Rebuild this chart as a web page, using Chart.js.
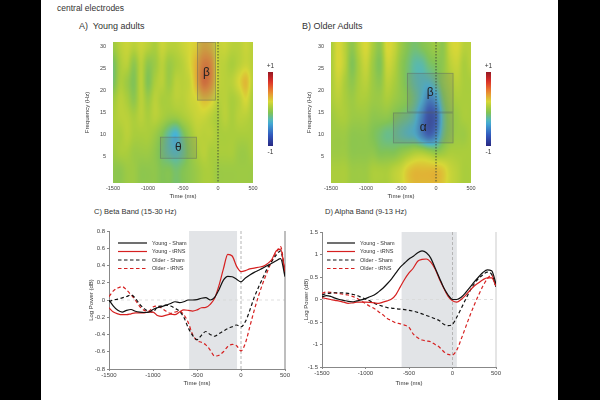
<!DOCTYPE html>
<html><head><meta charset="utf-8">
<script src="https://cdn.jsdelivr.net/npm/chart.js@4.4.1/dist/chart.umd.min.js"></script>
<style>
html,body{margin:0;padding:0;background:#fff;}
#page{position:relative;width:600px;height:400px;overflow:hidden;background:#fff;font-family:"Liberation Sans",Arial,sans-serif;color:#333;}
.bar{position:absolute;top:0;height:400px;background:#000;}
.txt{position:absolute;white-space:nowrap;line-height:1;}
canvas{position:absolute;}
</style></head><body>
<div id="page">
<div class="bar" style="left:0;width:41px"></div>
<div class="bar" style="left:558px;width:42px"></div>
<div class="txt" style="left:57px;top:4px;font-size:8.5px">central electrodes</div>
<div class="txt" style="left:79px;top:22px;font-size:9px">A)&nbsp; Young adults</div>
<div class="txt" style="left:302px;top:22px;font-size:9px">B) Older Adults</div>
<div class="txt" style="left:94px;top:208px;font-size:7.5px">C) Beta Band (15-30 Hz)</div>
<div class="txt" style="left:325px;top:208px;font-size:7.5px">D) Alpha Band (9-13 Hz)</div>
<canvas id="hA" width="215" height="175" style="left:80px;top:30px"></canvas>
<canvas id="hB" width="215" height="175" style="left:295px;top:30px"></canvas>
<canvas id="cC" width="215" height="170" style="left:80px;top:220px"></canvas>
<canvas id="cD" width="215" height="170" style="left:295px;top:220px"></canvas>
</div>
<script>
// ---------- heatmap data (time-frequency power, rows = frequencies) ----------
const heatTimes = [-1500,-1400,-1300,-1200,-1100,-1000,-900,-800,-700,-600,-500,-400,-300,-200,-100,0,100,200,300,400,500];
const heatFreqs = [30,26,22,18,14,10,6,2];
const heatTimeTicks = [-1500,-1000,-500,0,500];
const heatFreqTicks = [5,10,15,20,25,30];
const youngPower = [
 [0.0,0.1,0.15,0.1,0.15,0.1,0.05,0.15,0.1,0.1,0.15,0.2,0.25,0.35,0.3,0.15,0.15,0.1,0.1,0.15,0.1],
 [-0.15,0.05,0.1,-0.05,0.1,-0.05,0.0,0.1,0.0,0.05,0.1,0.2,0.35,0.5,0.45,0.15,0.1,0.05,0.1,0.15,0.1],
 [-0.15,0.05,0.0,-0.1,0.1,-0.1,0.05,0.1,0.0,0.1,0.1,0.15,0.35,0.55,0.45,0.15,0.1,0.1,0.2,0.3,0.1],
 [0.0,0.1,0.05,-0.05,0.1,0.0,0.1,0.05,0.05,0.1,0.1,0.15,0.2,0.3,0.25,0.1,0.1,0.05,0.1,0.2,0.05],
 [0.05,0.1,0.1,0.05,0.1,0.05,0.1,0.05,0.0,0.0,0.05,0.1,0.15,0.15,0.1,0.05,0.1,0.05,0.1,0.1,0.05],
 [0.05,0.05,0.1,0.05,0.05,0.05,0.0,-0.1,-0.25,-0.35,-0.15,0.0,0.1,0.1,0.1,0.05,0.05,0.05,0.05,0.05,0.05],
 [0.0,0.05,0.05,0.0,0.0,0.0,-0.05,-0.15,-0.25,-0.3,-0.2,-0.05,0.05,0.1,0.05,0.05,0.05,0.05,0.0,0.0,0.05],
 [-0.05,-0.05,0.0,0.0,-0.05,-0.05,-0.05,-0.1,-0.1,-0.15,-0.1,-0.05,0.0,0.05,0.05,0.0,0.0,0.0,0.0,0.0,0.0]
];
const olderPower = [
 [0.05,0.2,0.1,-0.05,0.1,0.2,0.05,-0.05,0.2,0.15,0.0,-0.1,-0.15,-0.1,-0.05,0.0,-0.05,0.15,0.2,0.1,0.1],
 [0.05,0.2,0.1,-0.1,0.05,0.15,0.0,-0.1,0.15,0.1,-0.05,-0.15,-0.25,-0.25,-0.15,-0.1,-0.05,0.1,0.15,0.05,0.1],
 [0.05,0.15,0.05,-0.05,0.05,0.1,0.0,-0.05,0.1,0.05,-0.05,-0.15,-0.25,-0.3,-0.3,-0.2,-0.05,0.05,0.1,0.05,0.05],
 [0.05,0.1,0.05,0.0,0.05,0.05,0.0,0.0,0.05,0.0,-0.05,-0.1,-0.2,-0.35,-0.55,-0.45,-0.15,0.0,0.05,0.05,0.05],
 [0.0,0.05,0.05,0.0,0.0,0.0,-0.05,-0.05,-0.05,-0.1,-0.15,-0.2,-0.3,-0.55,-0.8,-0.7,-0.25,-0.05,0.0,0.05,0.05],
 [0.0,0.0,0.0,-0.05,-0.05,-0.05,-0.1,-0.15,-0.2,-0.2,-0.25,-0.3,-0.35,-0.55,-0.7,-0.55,-0.2,-0.05,0.0,0.0,0.05],
 [0.0,0.0,0.0,-0.05,-0.05,-0.05,-0.05,-0.1,-0.1,-0.1,-0.05,0.0,0.05,0.05,0.0,-0.05,0.0,0.05,0.05,0.05,0.05],
 [0.05,0.05,0.05,0.0,0.0,0.0,0.05,0.05,0.05,0.1,0.15,0.25,0.3,0.3,0.3,0.3,0.25,0.15,0.1,0.05,0.05]
];
// regions of interest: [t0, t1, f0, f1, label]
const youngBoxes = [[-830,-300,4.5,9.5,'θ'],[-300,-30,17.7,31,'β']];
const olderBoxes = [[-415,250,15,24,'β'],[-615,250,8,15,'α']];

// ---------- line data ----------
const lineTimes = [-1500,-1450,-1400,-1350,-1300,-1250,-1200,-1150,-1100,-1050,-1000,-950,-900,-850,-800,-750,-700,-650,-600,-550,-500,-450,-400,-350,-300,-250,-200,-150,-100,-50,0,50,100,150,200,250,300,350,400,450,500];
const lineTimeTicks = [-1500,-1000,-500,0,500];
const seriesLabels = ['Young - Sham','Young - tRNS','Older - Sham','Older - tRNS'];
const betaYoungSham = [0.0,-0.07,-0.12,-0.14,-0.12,-0.11,-0.13,-0.14,-0.145,-0.14,-0.11,-0.09,-0.077,-0.06,-0.04,-0.02,-0.03,-0.02,0.0,0.0,0.005,0.02,0.027,0.0,0.03,0.12,0.23,0.275,0.27,0.24,0.21,0.255,0.29,0.32,0.345,0.37,0.40,0.425,0.455,0.48,0.27];
const betaYoungTrns = [-0.09,-0.14,-0.16,-0.17,-0.17,-0.16,-0.15,-0.15,-0.15,-0.14,-0.14,-0.18,-0.19,-0.175,-0.165,-0.17,-0.14,-0.115,-0.12,-0.128,-0.115,-0.09,-0.085,-0.05,0.02,0.17,0.36,0.53,0.51,0.39,0.33,0.34,0.36,0.37,0.38,0.39,0.42,0.47,0.57,0.59,0.32];
const betaOlderSham = [-0.02,0.0,0.01,0.025,0.04,0.058,0.02,-0.05,-0.1,-0.13,-0.14,-0.08,-0.07,-0.06,-0.07,-0.096,-0.13,-0.2,-0.32,-0.41,-0.46,-0.41,-0.365,-0.4,-0.42,-0.39,-0.36,-0.33,-0.31,-0.29,-0.31,-0.25,-0.12,0.03,0.15,0.26,0.37,0.45,0.52,0.57,0.29];
const betaOlderTrns = [0.04,0.105,0.14,0.155,0.116,0.06,0.0,-0.077,-0.12,-0.13,-0.08,-0.07,-0.096,-0.13,-0.154,-0.14,-0.13,-0.17,-0.26,-0.4,-0.47,-0.49,-0.52,-0.58,-0.65,-0.64,-0.6,-0.54,-0.515,-0.53,-0.59,-0.5,-0.31,-0.12,0.05,0.2,0.33,0.45,0.55,0.62,0.31];
const alphaYoungSham = [0.06,0.085,0.07,0.03,0.0,-0.02,-0.04,-0.05,-0.03,-0.01,0.02,0.06,0.1,0.17,0.25,0.35,0.46,0.59,0.72,0.81,0.9,0.96,1.04,1.08,1.04,0.92,0.7,0.48,0.26,0.1,0.0,0.0,0.05,0.15,0.27,0.39,0.5,0.6,0.66,0.64,0.35];
const alphaYoungTrns = [0.04,0.02,0.0,-0.02,-0.035,-0.06,-0.085,-0.075,-0.06,-0.06,-0.06,-0.065,-0.075,-0.085,-0.06,-0.03,0.01,0.11,0.28,0.45,0.59,0.7,0.85,0.89,0.9,0.83,0.68,0.45,0.25,0.07,-0.03,-0.06,0.0,0.09,0.2,0.3,0.37,0.44,0.48,0.48,0.3];
const alphaOlderSham = [0.1,0.13,0.14,0.15,0.15,0.145,0.136,0.115,0.09,0.05,0.01,-0.03,-0.08,-0.12,-0.15,-0.18,-0.19,-0.205,-0.215,-0.225,-0.24,-0.26,-0.285,-0.32,-0.355,-0.39,-0.43,-0.47,-0.55,-0.58,-0.55,-0.39,-0.2,0.0,0.19,0.35,0.47,0.55,0.61,0.56,0.28];
const alphaOlderTrns = [0.136,0.165,0.16,0.145,0.13,0.115,0.1,0.07,0.03,-0.03,-0.09,-0.15,-0.2,-0.27,-0.34,-0.42,-0.47,-0.52,-0.54,-0.57,-0.62,-0.77,-0.85,-0.9,-0.92,-0.94,-1.0,-1.06,-1.16,-1.22,-1.23,-1.12,-0.88,-0.62,-0.36,-0.12,0.1,0.3,0.46,0.54,0.28];
const betaTicks = [-0.8,-0.6,-0.4,-0.2,0,0.2,0.4,0.6,0.8];
const alphaTicks = [-1.5,-1,-0.5,0,0.5,1,1.5];
const betaWindow = [-590,-45];
const alphaWindow = [-585,50];

// ---------- styles ----------
Chart.defaults.font.family = '"Liberation Sans", Arial, sans-serif';
Chart.defaults.color = '#444';
const seriesColors = ['#111111','#d62020','#111111','#d62020'];
const seriesDash = [[],[],[3.5,2.5],[3.5,2.5]];
const cmapStops = [[-1,[40,40,130]],[-0.7,[50,90,190]],[-0.35,[70,180,215]],[-0.1,[130,195,85]],[0.05,[170,205,60]],[0.2,[215,215,55]],[0.45,[235,140,50]],[0.75,[220,45,40]],[1,[150,25,35]]];
function cmap(v){
  v=Math.max(-1,Math.min(1,v));
  for(let i=1;i<cmapStops.length;i++){
    const [v1,c1]=cmapStops[i],[v0,c0]=cmapStops[i-1];
    if(v<=v1){const t=(v-v0)/(v1-v0);return c0.map((c,k)=>Math.round(c+(c1[k]-c)*t));}
  }
  return cmapStops[cmapStops.length-1][1];
}
function cr(p0,p1,p2,p3,t){return 0.5*((2*p1)+(-p0+p2)*t+(2*p0-5*p1+4*p2-p3)*t*t+(-p0+3*p1-3*p2+p3)*t*t*t);}
function sampleGrid(grid,t,f){
  const nc=heatTimes.length,nr=heatFreqs.length;
  const ci=(t-heatTimes[0])/(heatTimes[1]-heatTimes[0]);
  const ri=(heatFreqs[0]-f)/(heatFreqs[0]-heatFreqs[1]);
  const c1=Math.floor(ci),r1=Math.floor(ri),tx=ci-c1,ty=ri-r1;
  const g=(r,c)=>grid[Math.min(nr-1,Math.max(0,r))][Math.min(nc-1,Math.max(0,c))];
  const rows=[];
  for(let k=-1;k<=2;k++){const r=r1+k;rows.push(cr(g(r,c1-1),g(r,c1),g(r,c1+1),g(r,c1+2),tx));}
  return cr(rows[0],rows[1],rows[2],rows[3],ty);
}
function makeHeatPlugin(grid,boxes){
  return {id:'heat',beforeDatasetsDraw(chart){
    const {ctx,chartArea:a,scales:{x,y}}=chart;
    const w=Math.round(a.width),h=Math.round(a.height);
    const off=document.createElement('canvas');off.width=w;off.height=h;
    const o=off.getContext('2d');const img=o.createImageData(w,h);
    for(let j=0;j<h;j++){const f=y.getValueForPixel(a.top+j+0.5);
      for(let i=0;i<w;i++){const t=x.getValueForPixel(a.left+i+0.5);
        const c=cmap(sampleGrid(grid,t,f));const p=(j*w+i)*4;
        img.data[p]=c[0];img.data[p+1]=c[1];img.data[p+2]=c[2];img.data[p+3]=255;}}
    o.putImageData(img,0,0);
    ctx.save();
    ctx.drawImage(off,a.left,a.top,w,h);
    ctx.beginPath();ctx.rect(a.left,a.top,a.width,a.height);ctx.clip();
    boxes.forEach(b=>{
      const x0=x.getPixelForValue(b[0]),x1=x.getPixelForValue(b[1]);
      const y0=y.getPixelForValue(b[3]),y1=y.getPixelForValue(b[2]);
      ctx.fillStyle='rgba(115,120,120,0.22)';ctx.fillRect(x0,y0,x1-x0,y1-y0);
      ctx.strokeStyle='rgba(90,95,95,0.45)';ctx.lineWidth=0.8;ctx.strokeRect(x0+0.5,y0+0.5,x1-x0-1,y1-y0-1);
    });
    const zx=x.getPixelForValue(0);
    ctx.strokeStyle='rgba(55,65,55,0.85)';ctx.lineWidth=1;ctx.setLineDash([1.5,1.5]);
    ctx.beginPath();ctx.moveTo(zx,a.top);ctx.lineTo(zx,a.bottom);ctx.stroke();ctx.setLineDash([]);
    ctx.fillStyle='#222';ctx.font='12px "Liberation Sans", Arial, sans-serif';ctx.textAlign='center';ctx.textBaseline='middle';
    boxes.forEach(b=>{
      const cx=(x.getPixelForValue(b[0])+x.getPixelForValue(b[1]))/2;
      const cy=(y.getPixelForValue(b[2])+y.getPixelForValue(Math.min(b[3],30.5)))/2;
      ctx.fillText(b[4],cx,cy);
    });
    ctx.restore();
    // colour bar
    const bx=a.right+15,by=a.top+30,bh=74,bw=5;
    const gr=ctx.createLinearGradient(0,by,0,by+bh);
    for(let k=0;k<=20;k++){const v=1-k/10;const c=cmap(v);gr.addColorStop(k/20,`rgb(${c[0]},${c[1]},${c[2]})`);}
    ctx.save();ctx.fillStyle=gr;ctx.fillRect(bx,by,bw,bh);
    ctx.fillStyle='#333';ctx.font='6.5px "Liberation Sans", Arial, sans-serif';ctx.textAlign='center';ctx.textBaseline='middle';
    ctx.fillText('+1',bx+bw/2,by-6);ctx.fillText('-1',bx+bw/2,by+bh+6);
    ctx.restore();
  }};
}
function heatChart(id,grid,boxes,pad,yW){
  new Chart(document.getElementById(id),{
    type:'scatter',data:{datasets:[{data:[],pointRadius:0}]},
    options:{responsive:false,animation:false,devicePixelRatio:1,layout:{padding:pad},
      plugins:{legend:{display:false},tooltip:{enabled:false}},
      scales:{
        x:{type:'linear',min:-1500,max:500,afterBuildTicks:s=>{s.ticks=heatTimeTicks.map(v=>({value:v}));},afterFit:s=>{s.height=17;},
           ticks:{callback:v=>String(v),font:{size:5.5},padding:2,maxRotation:0,autoSkip:false,color:'#444'},
           grid:{display:false,drawTicks:false,tickLength:0},border:{display:false},title:{display:true,text:'Time (ms)',font:{size:6},padding:0,color:'#333'}},
        y:{type:'linear',min:-1,max:31,afterBuildTicks:s=>{s.ticks=heatFreqTicks.map(v=>({value:v}));},afterFit:s=>{s.width=yW;},
           ticks:{callback:v=>String(v),font:{size:5.5},padding:7,color:'#444'},
           grid:{display:false,drawTicks:false,tickLength:0},border:{display:false},title:{display:true,text:'Frequency (Hz)',font:{size:6},padding:0,color:'#333'}}
      }},
    plugins:[makeHeatPlugin(grid,boxes)]
  });
}
function makeLinePlugin(win,leg,edgeColor){
  return {id:'deco',
    beforeDatasetsDraw(chart){
      const {ctx,chartArea:a,scales:{x,y}}=chart;
      ctx.save();
      const x0=x.getPixelForValue(win[0]),x1=x.getPixelForValue(win[1]);
      ctx.fillStyle='#e2e4e7';ctx.fillRect(x0,a.top,x1-x0,a.height);
      ctx.strokeStyle='#d8d8d8';ctx.lineWidth=0.8;ctx.setLineDash([3,3]);
      const zy=y.getPixelForValue(0);ctx.beginPath();ctx.moveTo(a.left,zy);ctx.lineTo(a.right,zy);ctx.stroke();
      ctx.strokeStyle='#b5b5b5';ctx.lineWidth=1;ctx.setLineDash([3,2]);
      const zx=x.getPixelForValue(0);ctx.beginPath();ctx.moveTo(zx,a.top);ctx.lineTo(zx,a.bottom);ctx.stroke();
      ctx.setLineDash([]);ctx.strokeStyle=edgeColor;ctx.lineWidth=1.5;
      const ex=x.getPixelForValue(500);ctx.beginPath();ctx.moveTo(ex,a.top);ctx.lineTo(ex,a.bottom);ctx.stroke();
      ctx.restore();
    },
    afterDatasetsDraw(chart){
      const {ctx,chartArea:a}=chart;
      ctx.save();ctx.font='5.5px "Liberation Sans", Arial, sans-serif';ctx.textBaseline='middle';ctx.fillStyle='#333';
      chart.data.datasets.forEach((d,i)=>{
        const yy=a.top+leg.y+i*leg.row;
        ctx.strokeStyle=d.borderColor;ctx.lineWidth=1.2;ctx.setLineDash(d.borderDash||[]);
        ctx.beginPath();ctx.moveTo(a.left+leg.x,yy);ctx.lineTo(a.left+leg.x+leg.len,yy);ctx.stroke();
        ctx.setLineDash([]);ctx.fillText(d.label,a.left+leg.x+leg.len+5,yy);
      });
      ctx.restore();
    }};
}
function lineChart(id,vals,yMin,yMax,yTicks,win,leg,pad,yW,xH,edgeColor){
  new Chart(document.getElementById(id),{
    type:'line',
    data:{datasets:vals.map((v,i)=>({label:seriesLabels[i],data:lineTimes.map((t,k)=>({x:t,y:v[k]})),
      borderColor:seriesColors[i],borderDash:seriesDash[i],borderWidth:1.2,pointRadius:0,cubicInterpolationMode:'monotone',fill:false}))},
    options:{responsive:false,animation:false,devicePixelRatio:1,layout:{padding:pad},
      plugins:{legend:{display:false},tooltip:{enabled:false}},
      scales:{
        x:{type:'linear',min:-1500,max:500,afterBuildTicks:s=>{s.ticks=lineTimeTicks.map(v=>({value:v}));},afterFit:s=>{s.height=xH;},
           ticks:{callback:v=>String(v),font:{size:6},padding:1,maxRotation:0,autoSkip:false},
           grid:{display:true,drawOnChartArea:false,tickLength:2,color:'#888'},border:{display:true,color:'#888'},
           title:{display:true,text:'Time (ms)',font:{size:6},padding:0,color:'#333'}},
        y:{type:'linear',min:yMin,max:yMax,afterBuildTicks:s=>{s.ticks=yTicks.map(v=>({value:v}));},afterFit:s=>{s.width=yW;},
           ticks:{callback:v=>String(Math.round(v*10)/10),font:{size:6},padding:2},
           grid:{display:true,drawOnChartArea:false,tickLength:2,color:'#888'},border:{display:true,color:'#888'},
           title:{display:true,text:'Log Power (dB)',font:{size:6},padding:0,color:'#333'}}
      }},
    plugins:[makeLinePlugin(win,leg,edgeColor)]
  });
}
heatChart('hA',youngPower,youngBoxes,{left:4,top:12,right:42,bottom:5},29);
heatChart('hB',olderPower,olderBoxes,{left:11,top:12,right:39,bottom:5},25);
lineChart('cC',[betaYoungSham,betaYoungTrns,betaOlderSham,betaOlderTrns],-0.8,0.8,betaTicks,betaWindow,{x:9,y:12,len:29,row:8.5},{left:8,top:11,right:10,bottom:3},21,18,'#a8a8a8');
lineChart('cD',[alphaYoungSham,alphaYoungTrns,alphaOlderSham,alphaOlderTrns],-1.5,1.5,alphaTicks,alphaWindow,{x:5,y:11,len:28,row:8.5},{left:8,top:12,right:14,bottom:3},19,20,'#dddddd');
</script>
</body></html>
